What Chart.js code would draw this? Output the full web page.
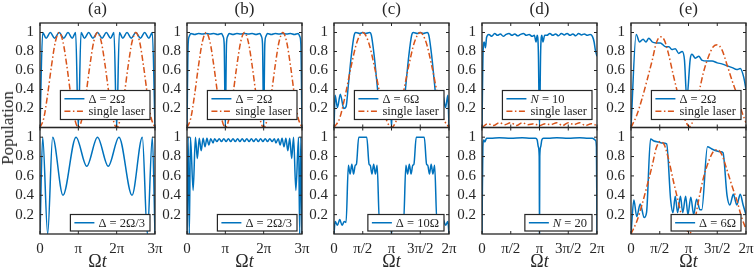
<!DOCTYPE html>
<html>
<head>
<meta charset="utf-8">
<script src="https://cdn.jsdelivr.net/npm/chart.js@4.4.0/dist/chart.umd.min.js"></script>
<style>
  body { margin: 0; background: #fff; width: 754px; height: 271px; position: relative; overflow: hidden; }
  canvas { position: absolute; }
  #ylab { position: absolute; left: 8px; top: 128px; transform: translate(-50%, -50%) rotate(-90deg);
          font: 17px "Liberation Serif", serif; color: #262626; white-space: nowrap; }
</style>
</head>
<body>
<div id="ylab">Population</div>
<script>
// tick labels and texts
const xTicks3 = [0, 1, 2, 3];
const xLabels3 = ['0', 'π', '2π', '3π'];
const xTicks2 = [0, 0.5, 1, 1.5, 2];
const xLabels2 = ['0', 'π/2', 'π', '3π/2', '2π'];
const yTicks = [0.2, 0.4, 0.6, 0.8, 1];
const yLabels = ['0.2', '0.4', '0.6', '0.8', '1'];
const panelTitles = ['(a)', '(b)', '(c)', '(d)', '(e)'];
const legendTop = ['Δ = 2Ω', 'Δ = 2Ω', 'Δ = 6Ω', 'N = 10', 'Δ = 2Ω'];
const legendBottom = ['Δ = 2Ω/3', 'Δ = 2Ω/3', 'Δ = 10Ω', 'N = 20', 'Δ = 6Ω'];
const singleLabel = 'single laser';

// single laser (a, b), time in units of pi
const tSingle3 = [0,0.1,0.2,0.3,0.4,0.5,0.6,0.7,0.8,0.9,1,1.1,1.2,1.3,1.4,1.5,1.6,1.7,1.8,1.9,2,2.1,2.2,2.3,2.4,2.5,2.6,2.7,2.8,2.9,3];
const pSingle3 = [0,0.1,0.35,0.65,0.9,1,0.9,0.65,0.35,0.1,0,0.1,0.35,0.65,0.9,1,0.9,0.65,0.35,0.1,0,0.1,0.35,0.65,0.9,1,0.9,0.65,0.35,0.1,0];
// single laser (c)
const tSingle2 = [0,0.1,0.2,0.3,0.4,0.5,0.6,0.7,0.8,0.9,1,1.1,1.2,1.3,1.4,1.5,1.6,1.7,1.8,1.9,2];
const pSingle2 = [0,0.1,0.35,0.65,0.9,1,0.9,0.65,0.35,0.1,0,0.1,0.35,0.65,0.9,1,0.9,0.65,0.35,0.1,0];
// single laser (d)
const tSingleD = [0,0.1,0.2,0.3,0.4,0.5,0.6,0.7,0.8,0.9,1,1.1,1.2,1.3,1.4,1.5,1.6,1.7,1.8,1.9,2];
const pSingleD = [0,0.04,0.02,0.05,0.03,0.05,0.02,0.05,0.03,0.04,0.02,0.04,0.03,0.05,0.02,0.05,0.03,0.05,0.02,0.04,0.02];
// single laser (e)
const tSingleE = [0,0.1,0.19,0.28,0.37,0.44,0.51,0.58,0.65,0.74,0.8,0.9,1.02,1.1,1.18,1.26,1.35,1.43,1.5,1.58,1.67,1.76,1.84,1.92,2];
const pSingleE = [0,0.13,0.3,0.5,0.71,0.89,0.955,0.92,0.78,0.54,0.39,0.15,0.01,0.12,0.36,0.58,0.75,0.85,0.87,0.82,0.66,0.49,0.35,0.18,0.05];

// (a)
const tA1 = [0,0.07,0.16,0.27,0.38,0.5,0.62,0.73,0.84,0.93,1,1.07,1.16,1.27,1.38,1.5,1.62,1.73,1.84,1.93,2,2.07,2.16,2.27,2.38,2.5,2.62,2.73,2.84,2.93,3];
const pA1 = [0,1,0.94,1,0.94,1,0.94,1,0.94,1,0,1,0.94,1,0.94,1,0.94,1,0.94,1,0,1,0.94,1,0.94,1,0.94,1,0.94,1,0];
const tA2 = [0,0.07,0.2,0.33,0.6,0.94,1.22,1.5,1.78,2.06,2.4,2.67,2.8,2.93,3];
const pA2 = [0,1,0,1,0.4,1,0.7,1,0.7,1,0.4,1,0,1,0];

// (b)
const tB1 = [0,0.03,0.06,0.1,0.2,0.3,0.4,0.5,0.6,0.7,0.8,0.9,0.94,0.97,
  1,1.03,1.06,1.1,1.2,1.3,1.4,1.5,1.6,1.7,1.8,1.9,1.94,1.97,
  2,2.03,2.06,2.1,2.2,2.3,2.4,2.5,2.6,2.7,2.8,2.9,2.94,2.97,3];
const pB1 = [0,0.88,0.96,0.99,0.98,0.99,0.985,0.99,0.985,0.99,0.98,0.99,0.96,0.88,
  0,0.88,0.96,0.99,0.98,0.99,0.985,0.99,0.985,0.99,0.98,0.99,0.96,0.88,
  0,0.88,0.96,0.99,0.98,0.99,0.985,0.99,0.985,0.99,0.98,0.99,0.96,0.88,0];
const tB2 = [0,0.03,0.06,0.09,0.16,0.22,0.27,0.32,0.37,0.42,0.47,0.52,0.57,0.62,0.68,
  0.72,0.78,0.84,0.9,0.96,1.02,1.08,1.14,1.2,1.26,1.32,1.38,1.44,1.5,1.56,1.62,1.68,1.74,1.8,1.86,1.92,1.98,2.04,2.1,2.16,2.22,2.28,
  2.32,2.38,2.43,2.48,2.53,2.58,2.63,2.68,2.73,2.78,2.84,2.91,2.94,2.97,3];
const pB2 = [0,1,0,1,0.45,1,0.78,0.99,0.86,0.99,0.9,0.99,0.92,0.985,0.94,
  0.985,0.955,0.985,0.955,0.985,0.955,0.985,0.955,0.985,0.955,0.985,0.955,0.985,0.955,0.985,0.955,0.985,0.955,0.985,0.955,0.985,0.955,0.985,0.955,0.985,0.955,0.985,
  0.94,0.985,0.92,0.99,0.9,0.99,0.86,0.99,0.78,1,0.45,1,0,1,0];

// (c)
const tC1 = [0,0.02,0.06,0.11,0.17,0.21,0.25,0.3,0.35,0.38,0.45,0.5,0.55,0.62,0.65,0.7,0.75,0.79,0.83,0.89,0.94,0.98,
  1,1.02,1.06,1.11,1.17,1.21,1.25,1.3,1.35,1.38,1.45,1.5,1.55,1.62,1.65,1.7,1.75,1.79,1.83,1.89,1.94,1.98,2];
const pC1 = [0,0.34,0.21,0.35,0.2,0.22,0.45,0.75,0.97,1,0.99,1,0.99,1,0.97,0.75,0.45,0.22,0.2,0.35,0.21,0.34,
  0,0.34,0.21,0.35,0.2,0.22,0.45,0.75,0.97,1,0.99,1,0.99,1,0.97,0.75,0.45,0.22,0.2,0.35,0.21,0.34,0];
const tC2 = [0,0.02,0.06,0.1,0.14,0.18,0.21,0.25,0.28,0.31,0.34,0.37,0.39,0.43,0.5,0.57,0.61,0.63,0.66,0.69,0.72,0.75,0.79,0.82,0.86,0.9,0.94,0.98,
  1,1.02,1.06,1.1,1.14,1.18,1.21,1.25,1.28,1.31,1.34,1.37,1.39,1.43,1.5,1.57,1.61,1.63,1.66,1.69,1.72,1.75,1.79,1.82,1.86,1.9,1.94,1.98,2];
const pC2 = [0,0.13,0.09,0.15,0.09,0.13,0.12,0.71,0.62,0.72,0.62,0.71,0.72,1,1,1,0.72,0.71,0.62,0.72,0.62,0.71,0.12,0.13,0.09,0.15,0.09,0.13,
  0,0.13,0.09,0.15,0.09,0.13,0.12,0.71,0.62,0.72,0.62,0.71,0.72,1,1,1,0.72,0.71,0.62,0.72,0.62,0.71,0.12,0.13,0.09,0.15,0.09,0.13,0];

// (d)
const tD1 = [0,0.02,0.04,0.06,0.08,0.12,0.17,0.22,0.27,0.32,0.37,0.42,0.47,0.52,0.57,0.62,0.67,0.72,0.77,0.82,0.87,0.91,0.94,0.96,0.98,1,
  1.02,1.04,1.06,1.09,1.13,1.18,1.23,1.28,1.33,1.38,1.43,1.48,1.53,1.58,1.63,1.68,1.73,1.78,1.83,1.88,1.92,1.95,1.97,2];
const pD1 = [0,0.82,0.9,0.84,0.95,0.98,0.96,0.99,0.97,0.985,0.96,0.98,0.99,0.97,0.985,0.965,0.98,0.99,0.97,0.98,0.96,0.97,0.9,0.97,0.8,0,
  0.8,0.97,0.9,0.97,0.97,0.99,0.97,0.985,0.965,0.99,0.975,0.99,0.97,0.985,0.965,0.99,0.975,0.985,0.97,0.98,0.96,0.9,0.82,0.75];
const tD2 = [0,0.015,0.03,0.05,0.08,0.15,0.3,0.5,0.7,0.85,0.93,0.96,0.98,0.995,1,1.005,1.02,1.04,1.07,1.15,1.3,1.5,1.7,1.85,1.92,1.97,1.99,2];
const pD2 = [0,0.9,0.97,0.95,0.99,0.99,0.995,0.99,0.995,0.99,0.99,0.97,0.9,0.8,0,0.8,0.9,0.97,0.99,0.99,0.995,0.99,0.995,0.99,0.99,0.97,0.9,0];

// (e)
const tE1 = [0,0.09,0.15,0.21,0.26,0.31,0.37,0.44,0.51,0.6,0.66,0.71,0.77,0.83,0.89,0.93,0.97,1.03,1.06,1.12,1.18,1.23,1.32,1.41,1.5,1.58,1.67,1.76,1.84,1.9,1.96,2];
const pE1 = [0,0.98,0.9,0.93,0.9,0.94,0.9,0.89,0.89,0.85,0.85,0.82,0.83,0.78,0.8,0.71,0.3,0.72,0.77,0.73,0.75,0.71,0.7,0.7,0.68,0.67,0.65,0.63,0.61,0.62,0.53,0.4];
const tE2 = [0,0.05,0.1,0.16,0.23,0.27,0.34,0.4,0.48,0.55,0.62,0.69,0.73,0.77,0.81,0.86,0.9,0.95,0.99,1.04,1.09,1.14,1.2,1.23,1.33,1.4,1.48,1.56,1.6,1.67,1.72,1.78,1.84,1.9,1.95,2];
const pE2 = [0,0.35,0.18,0.31,0.17,0.22,0.98,0.96,0.95,0.94,0.93,0.35,0.22,0.39,0.22,0.39,0.22,0.39,0.2,0.38,0.2,0.36,0.25,0.25,0.9,0.88,0.86,0.85,0.84,0.4,0.3,0.41,0.3,0.41,0.3,0.2];

const BLUE = '#0072BD';
const ORANGE = '#D95319';
const INK = '#262626';
const FONT = '"Liberation Serif", "Times New Roman", serif';
Chart.defaults.font.family = FONT;

const plotLeft = [40, 187, 334, 482, 631];
const plotWidth = 115;
const rightRoom = 12;   // room for the last x tick label

function zip(t, p) { return t.map((v, i) => ({ x: v, y: p[i] })); }

function parts(label) {
  const m = /^([A-Za-z])( = .*)$/.exec(label);
  return m ? [{ t: m[1], it: true }, { t: m[2] }] : [{ t: label }];
}
function richWidth(ctx, ps, size) {
  let w = 0;
  ps.forEach(p => { ctx.font = (p.it ? 'italic ' : '') + size + 'px ' + FONT; w += ctx.measureText(p.t).width; });
  return w;
}
function drawRich(ctx, ps, x, y, size) {
  ps.forEach(p => {
    ctx.font = (p.it ? 'italic ' : '') + size + 'px ' + FONT;
    ctx.fillText(p.t, x, y);
    x += ctx.measureText(p.t).width;
  });
}

function framePlugin(cfg) {
  return {
    id: 'frame',
    afterDraw(chart) {
      const { ctx, chartArea: a, scales } = chart;
      ctx.save();
      ctx.strokeStyle = INK;
      ctx.lineWidth = 1;
      ctx.beginPath();
      cfg.xt.forEach(v => {
        const px = scales.x.getPixelForValue(v);
        ctx.moveTo(px, a.bottom); ctx.lineTo(px, a.bottom - 3);
        ctx.moveTo(px, a.top); ctx.lineTo(px, a.top + 3);
      });
      yTicks.forEach(v => {
        const py = scales.y.getPixelForValue(v);
        ctx.moveTo(a.left, py); ctx.lineTo(a.left + 3, py);
        ctx.moveTo(a.right, py); ctx.lineTo(a.right - 3, py);
      });
      ctx.stroke();

      // legend box (datasets flagged inLegend only)
      const items = chart.data.datasets.filter(d => d.inLegend)
        .map(d => ({ ps: parts(d.label), color: d.borderColor, dash: d.borderDash || [] }));
      const fs = 12.5;
      const tw = Math.max(...items.map(it => richWidth(ctx, it.ps, fs)));
      const rowH = 12.5;
      const boxW = 28 + tw + 5, boxH = items.length * rowH + 4;
      const bx = a.right - 5 - boxW, by = a.bottom - cfg.legGap - boxH;
      ctx.fillStyle = '#fff';
      ctx.fillRect(bx, by, boxW, boxH);
      ctx.lineWidth = 1.2;
      ctx.strokeRect(bx, by, boxW, boxH);
      items.forEach((it, i) => {
        const cy = by + 2 + rowH * (i + 0.5);
        ctx.beginPath();
        ctx.strokeStyle = it.color;
        ctx.lineWidth = 1.5;
        ctx.setLineDash(it.dash);
        ctx.moveTo(bx + 4, cy); ctx.lineTo(bx + 24, cy);
        ctx.stroke();
        ctx.setLineDash([]);
        ctx.fillStyle = INK;
        ctx.textBaseline = 'middle';
        drawRich(ctx, it.ps, bx + 28, cy + 0.5, fs);
      });

      // axes box
      ctx.strokeStyle = INK;
      ctx.lineWidth = 1.3;
      ctx.strokeRect(a.left, a.top, a.right - a.left, a.bottom - a.top);

      ctx.fillStyle = INK;
      ctx.textBaseline = 'middle';
      const cx = (a.left + a.right) / 2;
      if (cfg.title) {
        ctx.font = '17px ' + FONT;
        ctx.textAlign = 'center';
        ctx.fillText(cfg.title, cx, 10);
      }
      if (cfg.xTitle) {
        ctx.textAlign = 'left';
        const ps = [{ t: 'Ω' }, { t: 't', it: true }];
        const w = richWidth(ctx, ps, 18);
        drawRich(ctx, ps, cx - w / 2, 137.5, 18);
      }
      ctx.restore();
    }
  };
}

function makePanel(col, bottom, xt, xl, xmax, datasets, title) {
  const c = document.createElement('canvas');
  const left = plotLeft[col] - 40;
  const top = bottom ? 125 : 0;
  const w = 40 + plotWidth + rightRoom;
  const h = bottom ? 146 : 130;
  c.width = w; c.height = h;
  c.style.left = left + 'px'; c.style.top = top + 'px';
  c.style.width = w + 'px'; c.style.height = h + 'px';
  document.body.insertBefore(c, document.getElementById('ylab'));

  new Chart(c.getContext('2d'), {
    type: 'line',
    data: { datasets },
    options: {
      responsive: false,
      animation: false,
      events: [],
      layout: { padding: { top: bottom ? 2.5 : 23, bottom: bottom ? 0 : 2.5, left: 0, right: rightRoom } },
      plugins: { legend: { display: false }, tooltip: { enabled: false } },
      elements: { point: { radius: 0 }, line: { borderWidth: 1.5, cubicInterpolationMode: 'monotone' } },
      scales: {
        x: {
          type: 'linear', min: 0, max: xmax, display: bottom,
          grid: { display: false, drawTicks: false }, border: { display: false },
          ticks: { padding: 6, autoSkip: false, maxRotation: 0, color: INK, font: { size: 15 },
                   callback: (v, i) => xl[i] },
          afterBuildTicks: s => { s.ticks = xt.map(v => ({ value: v })); },
          afterFit: s => { if (bottom) s.height = 37; s.paddingLeft = 0; s.paddingRight = 0; }
        },
        y: {
          min: 0, max: 1.1,
          grid: { display: false, drawTicks: false }, border: { display: false },
          ticks: { padding: 6, color: INK, font: { size: 15 }, callback: (v, i) => yLabels[i] },
          afterBuildTicks: s => { s.ticks = yTicks.map(v => ({ value: v })); },
          afterFit: s => { s.width = 40; s.paddingTop = 0; s.paddingBottom = 0; }
        }
      }
    },
    plugins: [framePlugin({ xt, legGap: bottom ? 3 : 8, title, xTitle: bottom })]
  });
}

function blue(label, t, p) {
  return { label, data: zip(t, p), borderColor: BLUE, order: 1, inLegend: true };
}
function orange(t, p, inLegend) {
  return { label: singleLabel, data: zip(t, p), borderColor: ORANGE, borderDash: [6, 2.5, 1.5, 2.5], order: 0, inLegend };
}

// top row
makePanel(0, false, xTicks3, xLabels3, 3, [blue(legendTop[0], tA1, pA1), orange(tSingle3, pSingle3, true)], panelTitles[0]);
makePanel(1, false, xTicks3, xLabels3, 3, [blue(legendTop[1], tB1, pB1), orange(tSingle3, pSingle3, true)], panelTitles[1]);
makePanel(2, false, xTicks2, xLabels2, 2, [blue(legendTop[2], tC1, pC1), orange(tSingle2, pSingle2, true)], panelTitles[2]);
makePanel(3, false, xTicks2, xLabels2, 2, [blue(legendTop[3], tD1, pD1), orange(tSingleD, pSingleD, true)], panelTitles[3]);
makePanel(4, false, xTicks2, xLabels2, 2, [blue(legendTop[4], tE1, pE1), orange(tSingleE, pSingleE, true)], panelTitles[4]);
// bottom row
makePanel(0, true, xTicks3, xLabels3, 3, [blue(legendBottom[0], tA2, pA2)]);
makePanel(1, true, xTicks3, xLabels3, 3, [blue(legendBottom[1], tB2, pB2)]);
makePanel(2, true, xTicks2, xLabels2, 2, [blue(legendBottom[2], tC2, pC2)]);
makePanel(3, true, xTicks2, xLabels2, 2, [blue(legendBottom[3], tD2, pD2)]);
makePanel(4, true, xTicks2, xLabels2, 2, [blue(legendBottom[4], tE2, pE2), orange(tSingleE, pSingleE, false)]);
</script>
</body>
</html>
